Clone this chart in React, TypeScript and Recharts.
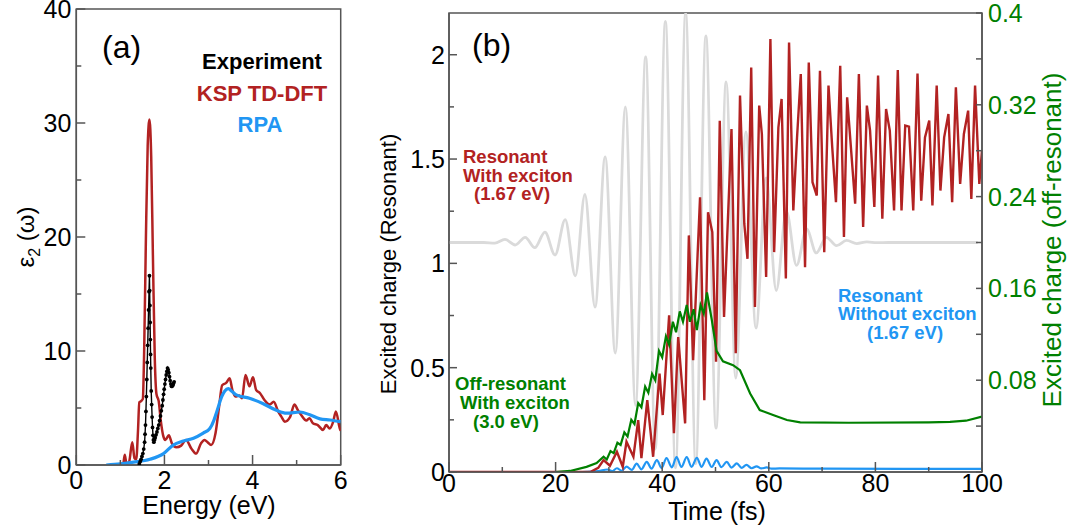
import React from 'react';
import { LineChart, Line, XAxis, YAxis, ReferenceArea } from 'recharts';

const FONT = '"Liberation Sans", Arial, Helvetica, sans-serif';
const AXIS = '#555';
const RED = '#B22222';
const BLUE = '#2196F3';
const GREEN = '#008000';

// ---- panel (a): eps2 spectra, [energy (eV), eps2] ----
const kspTddft = [
  [1.0, 0], [1.06, 0], [1.1, 0.9], [1.14, 0.1], [1.2, 0.3], [1.27, 2.0], [1.32, 0.6], [1.36, 0.5],
  [1.4, 3.0], [1.43, 5.5], [1.47, 5.6], [1.51, 5.8], [1.54, 10], [1.58, 20], [1.62, 28], [1.66, 30.3],
  [1.7, 27], [1.74, 18], [1.78, 9.5], [1.82, 6.2], [1.87, 5.6], [1.92, 3.8], [1.97, 2.6], [2.02, 2.2],
  [2.1, 2.6], [2.17, 1.9], [2.27, 1.55], [2.38, 1.7], [2.49, 2.2], [2.61, 1.45], [2.72, 1.0], [2.83, 1.9],
  [2.91, 2.2], [2.98, 2.0], [3.06, 1.75], [3.16, 2.8], [3.24, 5.1], [3.31, 7.0], [3.4, 7.2], [3.48, 7.6],
  [3.54, 6.6], [3.61, 6.0], [3.7, 6.1], [3.76, 5.85], [3.84, 7.9], [3.93, 6.9], [4.01, 7.7], [4.08, 6.6],
  [4.17, 6.3], [4.27, 5.7], [4.39, 5.3], [4.48, 5.55], [4.58, 4.7], [4.66, 4.2], [4.73, 3.8], [4.85, 4.2],
  [4.95, 5.3], [5.03, 4.8], [5.1, 4.4], [5.22, 3.9], [5.29, 4.1], [5.37, 3.66], [5.48, 3.5], [5.6, 3.07],
  [5.67, 3.5], [5.75, 3.2], [5.83, 3.8], [5.89, 4.7], [5.98, 3.2], [6.0, 3.0],
];

const rpa = [
  [0.68, 0], [1.0, 0.1], [1.3, 0.25], [1.67, 0.5], [1.98, 1.0], [2.2, 1.75], [2.43, 2.1], [2.66, 2.35],
  [2.88, 2.8], [3.03, 3.2], [3.12, 3.9], [3.19, 4.7], [3.3, 6.0], [3.37, 6.5], [3.45, 6.7], [3.52, 6.5],
  [3.63, 6.15], [3.93, 5.85], [4.23, 5.4], [4.54, 4.8], [4.77, 4.55], [5.08, 4.65], [5.3, 4.4],
  [5.53, 4.05], [5.76, 3.95], [6.0, 3.8],
];

const experiment = [
  [1.43, 0.1], [1.45, 0.3], [1.47, 0.5], [1.49, 0.75], [1.51, 1.0], [1.53, 1.4], [1.55, 2.0],
  [1.56, 2.7], [1.57, 3.5], [1.58, 4.7], [1.59, 6], [1.6, 7.5], [1.61, 9], [1.62, 10.5], [1.63, 12],
  [1.64, 13.6], [1.65, 15.2], [1.66, 16.6], [1.665, 15.3], [1.67, 14], [1.675, 12.5], [1.68, 11],
  [1.685, 9.7], [1.69, 8.5], [1.7, 6.5], [1.71, 5.3], [1.72, 4.2], [1.73, 3.3], [1.74, 2.6],
  [1.75, 2.2], [1.76, 2.0], [1.775, 2.2], [1.79, 2.4], [1.81, 2.65], [1.83, 2.9], [1.85, 3.2],
  [1.87, 3.5], [1.89, 3.9], [1.91, 4.3], [1.93, 4.75], [1.95, 5.2], [1.965, 5.7], [1.98, 6.2],
  [1.995, 6.65], [2.01, 7.1], [2.025, 7.5], [2.04, 7.9], [2.055, 8.2], [2.07, 8.5], [2.085, 8.35],
  [2.1, 8.1], [2.115, 7.75], [2.13, 7.4], [2.145, 7.1], [2.16, 6.9], [2.175, 6.9], [2.19, 7.0],
  [2.205, 7.15], [2.22, 7.3],
];

const energyTicks = [0, 1, 2, 3, 4, 5, 6];
const energyLabels = [0, 2, 4, 6];
const epsTicks = [0, 5, 10, 15, 20, 25, 30, 35, 40];
const epsLabels = [0, 10, 20, 30, 40];

// ---- panel (b): excited charge vs time, [time (fs), charge] ----
const laserField = [
  [0, 1.1], [6.5, 1.1], [8.6, 1.097], [10.5, 1.115], [12.4, 1.088], [14.3, 1.125], [16.1, 1.075],
  [18.0, 1.15], [19.9, 1.04], [21.8, 1.21], [23.7, 0.94], [25.5, 1.33], [27.4, 0.79], [29.3, 1.51],
  [31.2, 0.57], [33.1, 1.75], [35.0, 0.32], [36.9, 1.99], [38.7, 0.11], [40.6, 2.16], [42.5, 0.02],
  [44.4, 2.2], [46.3, 0.04], [48.2, 2.09], [50.1, 0.21], [52.0, 1.87], [53.8, 0.45], [55.7, 1.63],
  [57.6, 0.69], [59.5, 1.41], [61.4, 0.87], [63.3, 1.25], [65.2, 0.99], [67.1, 1.165], [68.9, 1.05],
  [70.8, 1.125], [72.7, 1.085], [74.6, 1.11], [76.5, 1.095], [78.4, 1.103], [80.3, 1.099], [82.5, 1.1],
  [99.2, 1.1],
];

const resonantExciton = [
  [0, 0], [26.5, 0], [28.0, 0.02], [29.0, 0.057], [30.2, 0.03], [31.5, 0.097], [32.6, 0.025],
  [33.3, 0.145], [34.6, 0.073], [35.5, 0.249], [36.1, 0.066], [37.2, 0.344], [38.3, 0.073],
  [39.5, 0.472], [40.1, 0.273], [41.3, 0.751], [42.2, 0.186], [43.0, 0.647], [44.3, 0.233],
  [45.0, 1.134], [45.8, 0.536], [47.1, 1.317], [47.9, 0.344], [48.6, 1.245], [49.4, 1.15],
  [50.1, 0.528], [50.8, 1.684], [51.6, 0.743], [53.0, 1.644], [53.8, 0.569], [54.6, 1.804],
  [55.4, 1.19], [56.0, 1.022], [56.7, 1.939], [57.4, 0.791], [58.2, 1.756], [58.7, 1.62], [59.5, 0.935],
  [60.3, 2.075], [61.0, 1.054], [61.8, 1.652], [62.4, 1.788], [63.2, 0.927], [63.8, 2.059],
  [64.6, 1.254], [65.3, 1.604], [66.0, 1.907], [66.8, 0.982], [67.5, 1.963], [68.2, 1.389],
  [69.0, 1.325], [69.6, 1.923], [70.4, 1.054], [71.2, 1.852], [71.9, 1.557], [72.6, 1.293],
  [73.4, 1.947], [74.1, 1.126], [74.7, 1.796], [76.2, 1.286], [76.9, 1.907], [77.7, 1.174],
  [78.4, 1.756], [79.0, 1.636], [79.8, 1.27], [80.5, 1.9], [81.3, 1.214], [82.0, 1.74], [82.7, 1.636],
  [83.5, 1.254], [84.2, 1.927], [84.9, 1.254], [85.6, 1.66], [86.3, 1.655], [87.1, 1.254], [87.9, 1.91],
  [88.6, 1.3], [89.3, 1.604], [90.1, 1.684], [90.7, 1.278], [91.5, 1.852], [92.2, 1.349], [92.9, 1.604],
  [93.7, 1.716], [94.4, 1.293], [95.1, 1.844], [95.9, 1.381], [96.6, 1.62], [97.4, 1.732], [98.0, 1.309],
  [98.7, 1.852], [99.5, 1.381], [100, 1.54],
];

// off-resonant, read on the right axis
const offResonantExciton = [
  [20, 0], [22.7, 0.0009], [25.8, 0.0045], [27.7, 0.0078], [29.0, 0.0133], [29.6, 0.0109],
  [30.3, 0.0182], [30.9, 0.0164], [31.6, 0.0255], [32.2, 0.0236], [32.9, 0.0345], [33.5, 0.0309],
  [34.2, 0.0455], [34.8, 0.0418], [35.5, 0.06], [36.1, 0.0564], [36.8, 0.0745], [37.4, 0.0691],
  [38.1, 0.0855], [38.7, 0.08], [39.4, 0.1055], [40.0, 0.1], [40.7, 0.1182], [41.3, 0.1109],
  [42.0, 0.1309], [42.6, 0.1218], [43.3, 0.14], [43.9, 0.1309], [44.6, 0.1455], [45.2, 0.1309],
  [45.9, 0.1418], [46.5, 0.1236], [47.2, 0.1455], [47.8, 0.1382], [48.4, 0.1564], [49.3, 0.1327],
  [50.2, 0.1055], [51.4, 0.0964], [53.3, 0.0931], [54.6, 0.0887], [56.5, 0.0684], [58.3, 0.054],
  [60.8, 0.0496], [63.4, 0.0453], [65.9, 0.0433], [75, 0.0429], [90, 0.0433], [94, 0.0436],
  [97, 0.0447], [100, 0.0482],
];

const resonantNoExciton = [
  [25, 0], [28.0, 0.004], [29.7, 0.012], [30.6, 0.004], [31.5, 0.018], [32.4, 0.006], [33.3, 0.026],
  [34.3, 0.01], [35.2, 0.04], [36.1, 0.013], [37.1, 0.049], [38.0, 0.016], [39.0, 0.057], [39.9, 0.019],
  [40.8, 0.067], [41.8, 0.022], [42.7, 0.072], [43.6, 0.024], [44.6, 0.071], [45.5, 0.025],
  [46.5, 0.068], [47.4, 0.025], [48.3, 0.064], [49.3, 0.024], [50.2, 0.057], [51.1, 0.023],
  [52.1, 0.049], [53.0, 0.021], [54.0, 0.041], [54.9, 0.02], [55.8, 0.034], [56.8, 0.018],
  [57.7, 0.027], [58.6, 0.017], [59.6, 0.022], [60.5, 0.016], [62, 0.017], [70, 0.016], [85, 0.015],
  [100, 0.015],
];

const timeTicks = [0, 10, 20, 30, 40, 50, 60, 70, 80, 90, 100];
const timeLabels = [0, 20, 40, 60, 80, 100];
const chargeTicks = [0, 0.25, 0.5, 0.75, 1, 1.25, 1.5, 1.75, 2];
const chargeLabels = [0, 0.5, 1, 1.5, 2];
const offTicks = [0, 0.04, 0.08, 0.12, 0.16, 0.2, 0.24, 0.28, 0.32, 0.36, 0.4];
const offLabels = [0.08, 0.16, 0.24, 0.32, 0.4];

const toPts = (arr: number[][]) => arr.map(([x, y]) => ({ x, y }));

// ticks point inwards; labels sit outside the frame
const AxisTick = (props: any) => {
  const { x, y, payload, side, labels, color, gap, major, minor } = props;
  const v = payload.value;
  const isMajor = labels.some((l: number) => Math.abs(l - v) < 1e-9);
  const len = isMajor ? major : minor;
  const txt = { fontFamily: FONT, fontSize: 25, fill: color || '#000' };
  if (side === 'bottom') {
    return (
      <g>
        <line x1={x} y1={y} x2={x} y2={y - len} stroke={AXIS} strokeWidth={1.5} />
        {isMajor && <text x={x} y={y + gap} textAnchor="middle" style={txt}>{String(v)}</text>}
      </g>
    );
  }
  if (side === 'left') {
    return (
      <g>
        <line x1={x} y1={y} x2={x + len} y2={y} stroke={AXIS} strokeWidth={1.5} />
        {isMajor && <text x={x - gap} y={y} dy="0.36em" textAnchor="end" style={txt}>{String(v)}</text>}
      </g>
    );
  }
  return (
    <g>
      <line x1={x} y1={y} x2={x - len} y2={y} stroke={AXIS} strokeWidth={1.5} />
      {isMajor && <text x={x + gap} y={y} dy="0.36em" textAnchor="start" style={txt}>{String(v)}</text>}
    </g>
  );
};

const axisLine = { stroke: AXIS, strokeWidth: 1.5 };

const PanelA = () => (
  <LineChart width={360} height={531} margin={{ top: 9, right: 19.3, bottom: 0, left: 0 }}>
    <XAxis dataKey="x" type="number" domain={[0, 6]} ticks={energyTicks} interval={0} height={66}
      tickSize={0} tickMargin={0} tickLine={false} axisLine={axisLine} allowDataOverflow
      tick={(p: any) => <AxisTick {...p} side="bottom" labels={energyLabels} gap={24} major={10} minor={5} />} />
    <YAxis type="number" domain={[0, 40]} ticks={epsTicks} interval={0} width={76.3}
      tickSize={0} tickMargin={0} tickLine={false} axisLine={axisLine} allowDataOverflow
      tick={(p: any) => <AxisTick {...p} side="left" labels={epsLabels} gap={5} major={9} minor={5} />} />
    <ReferenceArea x1={0} x2={6} y1={0} y2={40} fill="none" stroke={AXIS} strokeWidth={1.5} />
    <Line data={toPts(kspTddft)} dataKey="y" type="monotone" stroke={RED} strokeWidth={2.5}
      dot={false} isAnimationActive={false} />
    <Line data={toPts(experiment)} dataKey="y" type="linear" stroke="#000" strokeWidth={1.4}
      dot={{ r: 1.9, fill: '#000', stroke: 'none' }} isAnimationActive={false} />
    <Line data={toPts(rpa)} dataKey="y" type="monotone" stroke={BLUE} strokeWidth={3.2}
      dot={false} isAnimationActive={false} />
  </LineChart>
);

const PanelB = () => (
  <LineChart width={702} height={531} margin={{ top: 13, right: 0, bottom: 0, left: 0 }}>
    <XAxis dataKey="x" type="number" domain={[0, 100]} ticks={timeTicks} interval={0} height={59}
      tickSize={0} tickMargin={0} tickLine={false} axisLine={axisLine} allowDataOverflow
      tick={(p: any) => <AxisTick {...p} side="bottom" labels={timeLabels} gap={20} major={10} minor={5} />} />
    <YAxis yAxisId="left" type="number" domain={[0, 2.2]} ticks={chargeTicks} interval={0} width={79}
      tickSize={0} tickMargin={0} tickLine={false} axisLine={axisLine} allowDataOverflow
      tick={(p: any) => <AxisTick {...p} side="left" labels={chargeLabels} gap={4} major={8} minor={5} />} />
    <YAxis yAxisId="right" orientation="right" type="number" domain={[0, 0.4]} ticks={offTicks} interval={0}
      width={90} tickSize={0} tickMargin={0} tickLine={false} axisLine={axisLine} allowDataOverflow
      tick={(p: any) => <AxisTick {...p} side="right" labels={offLabels} color={GREEN} gap={6} major={6} minor={6} />} />
    <ReferenceArea yAxisId="left" x1={0} x2={100} y1={0} y2={2.2} fill="none" stroke={AXIS} strokeWidth={1.5} />
    <Line yAxisId="left" data={toPts(laserField)} dataKey="y" type="monotone" stroke="#DADADA"
      strokeWidth={2.8} dot={false} isAnimationActive={false} />
    <Line yAxisId="left" data={toPts(resonantNoExciton)} dataKey="y" type="monotone" stroke={BLUE}
      strokeWidth={2.2} dot={false} isAnimationActive={false} />
    <Line yAxisId="left" data={toPts(resonantExciton)} dataKey="y" type="linear" stroke={RED}
      strokeWidth={2.4} dot={false} isAnimationActive={false} />
    <Line yAxisId="right" data={toPts(offResonantExciton)} dataKey="y" type="linear" stroke={GREEN}
      strokeWidth={2.2} dot={false} isAnimationActive={false} />
  </LineChart>
);

const bold = { fontFamily: FONT, fontWeight: 700 as const };
const plain = { fontFamily: FONT };

const Overlay = () => (
  <svg width={1072} height={531} style={{ position: 'absolute', left: 0, top: 0, pointerEvents: 'none' }}>
    <text x={102} y={57.5} style={{ ...plain, fontSize: 32 }}>(a)</text>
    <text x={262} y={69} textAnchor="middle" style={{ ...bold, fontSize: 22 }} fill="#000">Experiment</text>
    <text x={262} y={101} textAnchor="middle" style={{ ...bold, fontSize: 22 }} fill={RED}>KSP TD-DFT</text>
    <text x={260} y={132} textAnchor="middle" style={{ ...bold, fontSize: 22 }} fill={BLUE}>RPA</text>
    <text x={209} y={514} textAnchor="middle" style={{ ...plain, fontSize: 25 }}>Energy (eV)</text>
    <text transform="translate(34,237) rotate(-90)" textAnchor="middle" style={{ ...plain, fontSize: 24 }}>
      ε<tspan fontSize={16} dy={6}>2</tspan><tspan dy={-6}> (ω)</tspan>
    </text>

    <text x={472} y={56} style={{ ...plain, fontSize: 32 }}>(b)</text>
    <text x={717} y={520} textAnchor="middle" style={{ ...plain, fontSize: 25 }}>Time (fs)</text>
    <text transform="translate(396,264) rotate(-90)" textAnchor="middle" style={{ ...plain, fontSize: 22 }}>
      Excited charge (Resonant)
    </text>
    <text transform="translate(1061,240) rotate(-90)" textAnchor="middle" style={{ ...plain, fontSize: 26 }} fill={GREEN}>
      Excited charge (off-resonant)
    </text>

    <g style={{ ...bold, fontSize: 18.5 }} fill={RED}>
      <text x={463} y={163}>Resonant</text>
      <text x={463} y={182}>With exciton</text>
      <text x={474} y={200}>(1.67 eV)</text>
    </g>
    <g style={{ ...bold, fontSize: 18.5 }} fill={GREEN}>
      <text x={455} y={390}>Off-resonant</text>
      <text x={460} y={409}>With exciton</text>
      <text x={473} y={428}>(3.0 eV)</text>
    </g>
    <g style={{ ...bold, fontSize: 18.5 }} fill={BLUE}>
      <text x={838} y={301.5}>Resonant</text>
      <text x={838} y={320}>Without exciton</text>
      <text x={867} y={338.5}>(1.67 eV)</text>
    </g>
  </svg>
);

export default function App() {
  return (
    <div style={{ position: 'absolute', left: 0, top: 0, width: 1072, height: 531, background: '#fff' }}>
      <div style={{ position: 'absolute', left: 0, top: 0 }}>
        <PanelA />
      </div>
      <div style={{ position: 'absolute', left: 370, top: 0 }}>
        <PanelB />
      </div>
      <Overlay />
    </div>
  );
}
